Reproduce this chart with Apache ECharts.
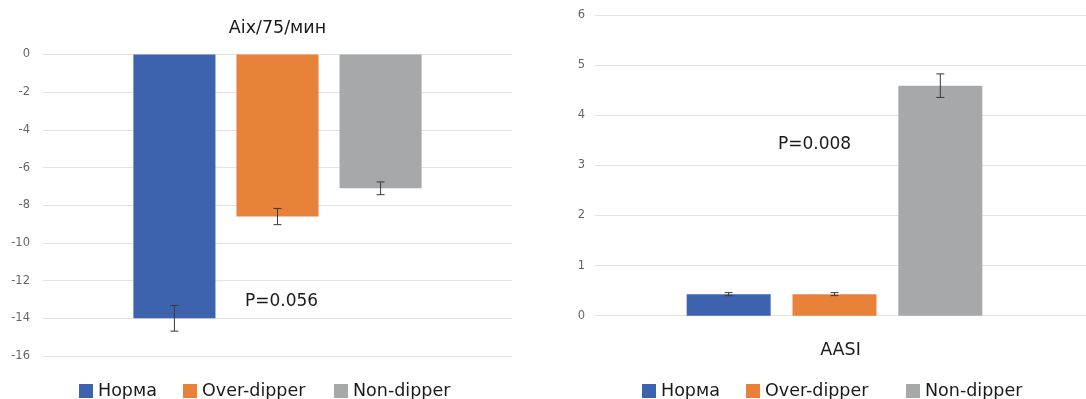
<!DOCTYPE html>
<html>
<head>
<meta charset="utf-8">
<script src="https://cdn.jsdelivr.net/npm/echarts@6/dist/echarts.min.js"></script>
<style>
  html, body { margin: 0; padding: 0; background: #ffffff; }
  #chart { width: 1086px; height: 399px; }
</style>
</head>
<body>
<div id="chart"></div>
<script>
// Groups shown in both panels
const groups = ['Норма', 'Over-dipper', 'Non-dipper'];
const colors = ['#3d62ae', '#e8823a', '#a6a8aa'];

// Left panel: Aix/75/мин (mean and error)
const aixCategory = ['Aix/75/мин'];
const aixMeans = [-14.0, -8.6, -7.1];
const aixErrors = [0.68, 0.43, 0.34];
const aixTicks = { min: -16, max: 0, interval: 2 };
const aixP = 'P=0.056';

// Right panel: AASI (mean and error)
const aasiCategory = ['AASI'];
const aasiMeans = [0.43, 0.43, 4.59];
const aasiErrors = [0.03, 0.03, 0.235];
const aasiTicks = { min: 0, max: 6, interval: 1 };
const aasiP = 'P=0.008';

const FONT = 'DejaVu Sans';
// bar width and gap, in percent of the category band / bar width
const barLayout = [
  { width: 17.5, gap: 25.6 },
  { width: 16.7, gap: 26.0 }
];

const chart = echarts.init(document.getElementById('chart'), null, { renderer: 'canvas' });

function barSeries(gridIdx, means) {
  return groups.map((name, i) => ({
    name: name,
    type: 'bar',
    xAxisIndex: gridIdx,
    yAxisIndex: gridIdx,
    data: [means[i]],
    barWidth: barLayout[gridIdx].width + '%',
    barGap: barLayout[gridIdx].gap + '%',
    itemStyle: { color: colors[i] },
    emphasis: { disabled: true },
    silent: true
  }));
}

// Whiskers placed at the same offsets the bar layout uses
function errorSeries(gridIdx, means, errors) {
  const lay = barLayout[gridIdx];
  return {
    type: 'custom',
    xAxisIndex: gridIdx,
    yAxisIndex: gridIdx,
    silent: true,
    z: 10,
    data: means.map((m, i) => [0, m, errors[i], i]),
    renderItem: function (params, api) {
      const band = api.size([1, 0])[0];
      const bw = band * lay.width / 100;
      const step = bw * (1 + lay.gap / 100);
      const k = api.value(3);
      const cx = api.coord([api.value(0), 0])[0] + (k - 1) * step;
      const m = api.value(1), e = api.value(2);
      const yTop = api.coord([0, m + e])[1];
      const yBot = api.coord([0, m - e])[1];
      const cap = 4;
      const style = { stroke: '#3a3a3a', lineWidth: 1, fill: null };
      return {
        type: 'group',
        children: [
          { type: 'line', shape: { x1: cx, y1: yTop, x2: cx, y2: yBot }, style: style },
          { type: 'line', shape: { x1: cx - cap, y1: yTop, x2: cx + cap, y2: yTop }, style: style },
          { type: 'line', shape: { x1: cx - cap, y1: yBot, x2: cx + cap, y2: yBot }, style: style }
        ]
      };
    }
  };
}

const yLabel = { color: '#666666', fontFamily: FONT, fontSize: 11.5 };
const catLabel = { fontFamily: FONT, fontSize: 17.5, color: '#1a1a1a' };
const splitLine = { show: true, lineStyle: { color: '#e3e3e3', width: 1 } };
const hidden = { show: false };

// one legend entry per group so each item sits at its own spot
function legendItem(name, left) {
  return {
    orient: 'horizontal',
    left: left,
    top: 382,
    itemWidth: 14,
    itemHeight: 14,
    padding: 0,
    icon: 'rect',
    selectedMode: false,
    textStyle: { fontFamily: FONT, fontSize: 17.5, color: '#1a1a1a' },
    data: [name]
  };
}
const leftLegendX = [79, 183, 334];
const rightLegendX = [642, 746, 906];

const option = {
  animation: false,
  backgroundColor: '#ffffff',
  grid: [
    { left: 43, top: 54.5, width: 469, height: 301.5 },
    // bars of the AASI panel
    { left: 583, top: 15, right: 0, height: 300.7 },
    // gridlines, value labels and category name of the AASI panel
    { left: 595, top: 15, right: 0, height: 300.7 }
  ],
  xAxis: [
    {
      type: 'category', gridIndex: 0, data: aixCategory, position: 'top',
      axisLine: hidden, axisTick: hidden,
      axisLabel: Object.assign({ margin: 17 }, catLabel)
    },
    {
      type: 'category', gridIndex: 1, data: aasiCategory,
      axisLine: hidden, axisTick: hidden, axisLabel: hidden
    },
    {
      type: 'category', gridIndex: 2, data: aasiCategory, position: 'bottom',
      axisLine: hidden, axisTick: hidden,
      axisLabel: Object.assign({ margin: 26 }, catLabel)
    }
  ],
  yAxis: [
    {
      type: 'value', gridIndex: 0,
      min: aixTicks.min, max: aixTicks.max, interval: aixTicks.interval,
      axisLine: hidden, axisTick: hidden,
      axisLabel: Object.assign({ margin: 13 }, yLabel),
      splitLine: splitLine
    },
    {
      type: 'value', gridIndex: 1,
      min: aasiTicks.min, max: aasiTicks.max, interval: aasiTicks.interval,
      axisLine: hidden, axisTick: hidden, axisLabel: hidden, splitLine: hidden
    },
    {
      type: 'value', gridIndex: 2,
      min: aasiTicks.min, max: aasiTicks.max, interval: aasiTicks.interval,
      axisLine: hidden, axisTick: hidden,
      axisLabel: Object.assign({ margin: 10 }, yLabel),
      splitLine: splitLine
    }
  ],
  legend: [].concat(
    groups.map((g, i) => legendItem(g, leftLegendX[i])),
    groups.map((g, i) => legendItem(g, rightLegendX[i]))
  ),
  graphic: [
    {
      type: 'text', left: 245, top: 293,
      style: { text: aixP, fontFamily: FONT, fontSize: 17, fill: '#1a1a1a' }
    },
    {
      type: 'text', left: 778, top: 136,
      style: { text: aasiP, fontFamily: FONT, fontSize: 17, fill: '#1a1a1a' }
    }
  ],
  series: [].concat(
    barSeries(0, aixMeans),
    barSeries(1, aasiMeans),
    [errorSeries(0, aixMeans, aixErrors), errorSeries(1, aasiMeans, aasiErrors)]
  )
};

chart.setOption(option);
</script>
</body>
</html>
